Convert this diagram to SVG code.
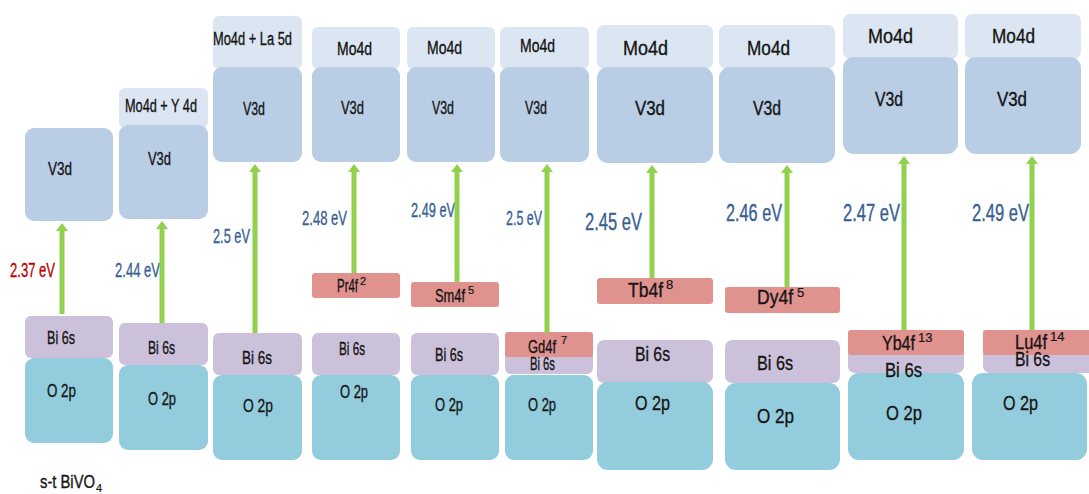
<svg xmlns="http://www.w3.org/2000/svg" width="1089" height="494" viewBox="0 0 1089 494">
<defs>
<style>
text{font-family:"Liberation Sans",Arial,sans-serif;fill:#141414;stroke:#141414;stroke-width:0.35}
.mo{fill:#dce6f2}
.v{fill:#b9cde5}
.bi{fill:#ccc1da}
.o{fill:#93cddd}
.f{fill:#e0928f}
.s{font-size:18px}
.l{font-size:21px}
.ev{fill:#376092;stroke:#376092;font-size:21px}
.evl{fill:#376092;stroke:#376092;font-size:23px}
.red{fill:#c00000;stroke:#c00000}
.arr{stroke:#92d050;stroke-width:5;fill:none;marker-end:url(#ah)}
.sup{font-size:11px;stroke-width:0.2}
.supl{font-size:13px;stroke-width:0.2}
</style>
<marker id="ah" markerWidth="1.6" markerHeight="2.4" refX="0" refY="1.2" orient="auto" markerUnits="strokeWidth">
<path d="M0,0 L1.6,1.2 L0,2.4 Z" fill="#92d050"/>
</marker>
</defs>
<rect width="1089" height="494" fill="#ffffff"/>

<g id="col1">
<rect class="v" x="25" y="128" width="88" height="93" rx="9"/>
<rect class="bi" x="25" y="316" width="88" height="42" rx="6"/>
<rect class="o" x="25" y="358" width="88" height="85" rx="9"/>
<text class="s" x="48" y="175" textLength="24" lengthAdjust="spacingAndGlyphs">V3d</text>
<text class="s" x="47" y="344" textLength="28" lengthAdjust="spacingAndGlyphs">Bi 6s</text>
<text class="s" x="47" y="397" textLength="29" lengthAdjust="spacingAndGlyphs">O 2p</text>
<text class="ev red" x="10" y="277" textLength="45" lengthAdjust="spacingAndGlyphs">2.37 eV</text>
<text class="s" x="40" y="488"><tspan textLength="55" lengthAdjust="spacingAndGlyphs">s-t BiVO</tspan><tspan class="sup" dx="1" dy="4">4</tspan></text>
</g>

<g id="col2">
<rect class="mo" x="119" y="88" width="89" height="40" rx="6"/>
<rect class="v" x="119" y="125" width="89" height="94" rx="9"/>
<rect class="bi" x="119" y="323" width="89" height="42" rx="6"/>
<rect class="o" x="119" y="365" width="89" height="85" rx="9"/>
<text class="s" x="125" y="112" textLength="72" lengthAdjust="spacingAndGlyphs">Mo4d + Y 4d</text>
<text class="s" x="148" y="165" textLength="23" lengthAdjust="spacingAndGlyphs">V3d</text>
<text class="s" x="148" y="354" textLength="27" lengthAdjust="spacingAndGlyphs">Bi 6s</text>
<text class="s" x="148" y="405" textLength="28" lengthAdjust="spacingAndGlyphs">O 2p</text>
<text class="ev" x="115" y="277" textLength="45" lengthAdjust="spacingAndGlyphs">2.44 eV</text>
</g>

<g id="col3">
<rect class="mo" x="213" y="16" width="89" height="53" rx="6"/>
<rect class="v" x="213" y="67" width="89" height="95" rx="9"/>
<rect class="bi" x="213" y="333" width="89" height="42" rx="6"/>
<rect class="o" x="213" y="375" width="89" height="85" rx="9"/>
<text class="s" x="213" y="45" textLength="79" lengthAdjust="spacingAndGlyphs">Mo4d + La 5d</text>
<text class="s" x="243" y="115" textLength="22" lengthAdjust="spacingAndGlyphs">V3d</text>
<text class="s" x="242" y="364" textLength="30" lengthAdjust="spacingAndGlyphs">Bi 6s</text>
<text class="s" x="243" y="412" textLength="30" lengthAdjust="spacingAndGlyphs">O 2p</text>
<text class="ev" x="213" y="243" textLength="37" lengthAdjust="spacingAndGlyphs">2.5 eV</text>
</g>

<g id="col4">
<rect class="mo" x="312" y="27" width="88" height="42" rx="6"/>
<rect class="v" x="312" y="67" width="88" height="95" rx="9"/>
<rect class="f" x="312" y="273" width="88" height="25" rx="3"/>
<rect class="bi" x="312" y="333" width="88" height="42" rx="6"/>
<rect class="o" x="312" y="375" width="88" height="85" rx="9"/>
<text class="s" x="337" y="55" textLength="35" lengthAdjust="spacingAndGlyphs">Mo4d</text>
<text class="s" x="341" y="114" textLength="23" lengthAdjust="spacingAndGlyphs">V3d</text>
<text class="s" x="337" y="292"><tspan textLength="21" lengthAdjust="spacingAndGlyphs">Pr4f</tspan><tspan class="sup" dx="2" dy="-7">2</tspan></text>
<text class="s" x="339" y="355" textLength="26" lengthAdjust="spacingAndGlyphs">Bi 6s</text>
<text class="s" x="340" y="398" textLength="28" lengthAdjust="spacingAndGlyphs">O 2p</text>
<text class="ev" x="302" y="225" textLength="45" lengthAdjust="spacingAndGlyphs">2.48 eV</text>
</g>

<g id="col5">
<rect class="mo" x="407" y="27" width="88" height="42" rx="6"/>
<rect class="v" x="407" y="67" width="88" height="95" rx="9"/>
<rect class="f" x="411" y="282" width="88" height="25" rx="3"/>
<rect class="bi" x="411" y="333" width="88" height="42" rx="6"/>
<rect class="o" x="411" y="375" width="88" height="85" rx="9"/>
<text class="s" x="427" y="54" textLength="35" lengthAdjust="spacingAndGlyphs">Mo4d</text>
<text class="s" x="432" y="114" textLength="22" lengthAdjust="spacingAndGlyphs">V3d</text>
<text class="s" x="435" y="302"><tspan textLength="30" lengthAdjust="spacingAndGlyphs">Sm4f</tspan><tspan class="sup" dx="3" dy="-8">5</tspan></text>
<text class="s" x="435" y="361" textLength="28" lengthAdjust="spacingAndGlyphs">Bi 6s</text>
<text class="s" x="435" y="411" textLength="28" lengthAdjust="spacingAndGlyphs">O 2p</text>
<text class="ev" x="411" y="217" textLength="44" lengthAdjust="spacingAndGlyphs">2.49 eV</text>
</g>

<g id="col6">
<rect class="mo" x="500" y="27" width="89" height="42" rx="6"/>
<rect class="v" x="500" y="67" width="89" height="95" rx="9"/>
<rect class="bi" x="505" y="332" width="88" height="42" rx="6"/>
<rect class="f" x="505" y="332" width="88" height="25" rx="3"/>
<rect class="o" x="505" y="375" width="88" height="85" rx="9"/>
<text class="s" x="520" y="52" textLength="35" lengthAdjust="spacingAndGlyphs">Mo4d</text>
<text class="s" x="525" y="114" textLength="22" lengthAdjust="spacingAndGlyphs">V3d</text>
<text class="s" x="528" y="353"><tspan textLength="28" lengthAdjust="spacingAndGlyphs">Gd4f</tspan><tspan class="sup" dx="5" dy="-9">7</tspan></text>
<text class="s" x="530" y="370" textLength="25" lengthAdjust="spacingAndGlyphs">Bi 6s</text>
<text class="s" x="528" y="411" textLength="28" lengthAdjust="spacingAndGlyphs">O 2p</text>
<text class="ev" x="506" y="225" textLength="36" lengthAdjust="spacingAndGlyphs">2.5 eV</text>
</g>

<g id="col7">
<rect class="mo" x="597" y="25" width="116" height="44" rx="7"/>
<rect class="v" x="597" y="67" width="116" height="96" rx="11"/>
<rect class="f" x="597" y="278" width="116" height="26" rx="3"/>
<rect class="bi" x="597" y="340" width="116" height="43" rx="7"/>
<rect class="o" x="597" y="382" width="116" height="88" rx="11"/>
<text class="l" x="623" y="55" textLength="45" lengthAdjust="spacingAndGlyphs">Mo4d</text>
<text class="l" x="635" y="115" textLength="30" lengthAdjust="spacingAndGlyphs">V3d</text>
<text class="l" x="628" y="297"><tspan textLength="35" lengthAdjust="spacingAndGlyphs">Tb4f</tspan><tspan class="supl" dx="3" dy="-8">8</tspan></text>
<text class="l" x="635" y="361" textLength="35" lengthAdjust="spacingAndGlyphs">Bi 6s</text>
<text class="l" x="635" y="410" textLength="35" lengthAdjust="spacingAndGlyphs">O 2p</text>
<text class="evl" x="585" y="230" textLength="57" lengthAdjust="spacingAndGlyphs">2.45 eV</text>
</g>

<g id="col8">
<rect class="mo" x="719" y="25" width="116" height="44" rx="7"/>
<rect class="v" x="719" y="67" width="116" height="96" rx="11"/>
<rect class="f" x="725" y="287" width="115" height="26" rx="3"/>
<rect class="bi" x="725" y="340" width="115" height="43" rx="7"/>
<rect class="o" x="725" y="383" width="115" height="87" rx="11"/>
<text class="l" x="747" y="55" textLength="43" lengthAdjust="spacingAndGlyphs">Mo4d</text>
<text class="l" x="753" y="115" textLength="28" lengthAdjust="spacingAndGlyphs">V3d</text>
<text class="l" x="757" y="304"><tspan textLength="36" lengthAdjust="spacingAndGlyphs">Dy4f</tspan><tspan class="supl" dx="4" dy="-7">5</tspan></text>
<text class="l" x="757" y="370" textLength="36" lengthAdjust="spacingAndGlyphs">Bi 6s</text>
<text class="l" x="757" y="423" textLength="37" lengthAdjust="spacingAndGlyphs">O 2p</text>
<text class="evl" x="726" y="221" textLength="56" lengthAdjust="spacingAndGlyphs">2.46 eV</text>
</g>

<g id="col9">
<rect class="mo" x="843" y="14" width="115" height="45" rx="7"/>
<rect class="v" x="843" y="57" width="115" height="97" rx="11"/>
<rect class="bi" x="848" y="330" width="116" height="43" rx="7"/>
<rect class="f" x="848" y="330" width="116" height="25" rx="3"/>
<rect class="o" x="848" y="373" width="116" height="87" rx="11"/>
<text class="l" x="868" y="43" textLength="45" lengthAdjust="spacingAndGlyphs">Mo4d</text>
<text class="l" x="875" y="106" textLength="28" lengthAdjust="spacingAndGlyphs">V3d</text>
<text class="l" x="882" y="350"><tspan textLength="33" lengthAdjust="spacingAndGlyphs">Yb4f</tspan><tspan class="supl" dx="3" dy="-8">13</tspan></text>
<text class="l" x="885" y="377" textLength="37" lengthAdjust="spacingAndGlyphs">Bi 6s</text>
<text class="l" x="886" y="420" textLength="36" lengthAdjust="spacingAndGlyphs">O 2p</text>
<text class="evl" x="843" y="221" textLength="57" lengthAdjust="spacingAndGlyphs">2.47 eV</text>
</g>

<g id="col10">
<rect class="mo" x="965" y="14" width="116" height="45" rx="7"/>
<rect class="v" x="965" y="57" width="116" height="97" rx="11"/>
<rect class="bi" x="983" y="330" width="112" height="43" rx="7"/>
<rect class="f" x="983" y="330" width="112" height="25" rx="3"/>
<rect class="o" x="972" y="373" width="115" height="87" rx="11"/>
<text class="l" x="992" y="43" textLength="43" lengthAdjust="spacingAndGlyphs">Mo4d</text>
<text class="l" x="997" y="106" textLength="30" lengthAdjust="spacingAndGlyphs">V3d</text>
<text class="l" x="1015" y="349"><tspan textLength="32" lengthAdjust="spacingAndGlyphs">Lu4f</tspan><tspan class="supl" dx="3" dy="-8">14</tspan></text>
<text class="l" x="1015" y="366" textLength="35" lengthAdjust="spacingAndGlyphs">Bi 6s</text>
<text class="l" x="1003" y="410" textLength="35" lengthAdjust="spacingAndGlyphs">O 2p</text>
<text class="evl" x="972" y="221" textLength="57" lengthAdjust="spacingAndGlyphs">2.49 eV</text>
</g>

<g id="connectors">
<line class="arr" x1="62" y1="314" x2="62" y2="231"/>
<line class="arr" x1="162" y1="323" x2="162" y2="229"/>
<line class="arr" x1="255" y1="333" x2="255" y2="172"/>
<line class="arr" x1="354" y1="273" x2="354" y2="172"/>
<line class="arr" x1="457" y1="282" x2="457" y2="172"/>
<line class="arr" x1="547" y1="333" x2="547" y2="172"/>
<line class="arr" x1="652" y1="278" x2="652" y2="173"/>
<line class="arr" x1="787" y1="287" x2="787" y2="173"/>
<line class="arr" x1="904" y1="330" x2="904" y2="164"/>
<line class="arr" x1="1032" y1="330" x2="1032" y2="164"/>
</g>
</svg>
